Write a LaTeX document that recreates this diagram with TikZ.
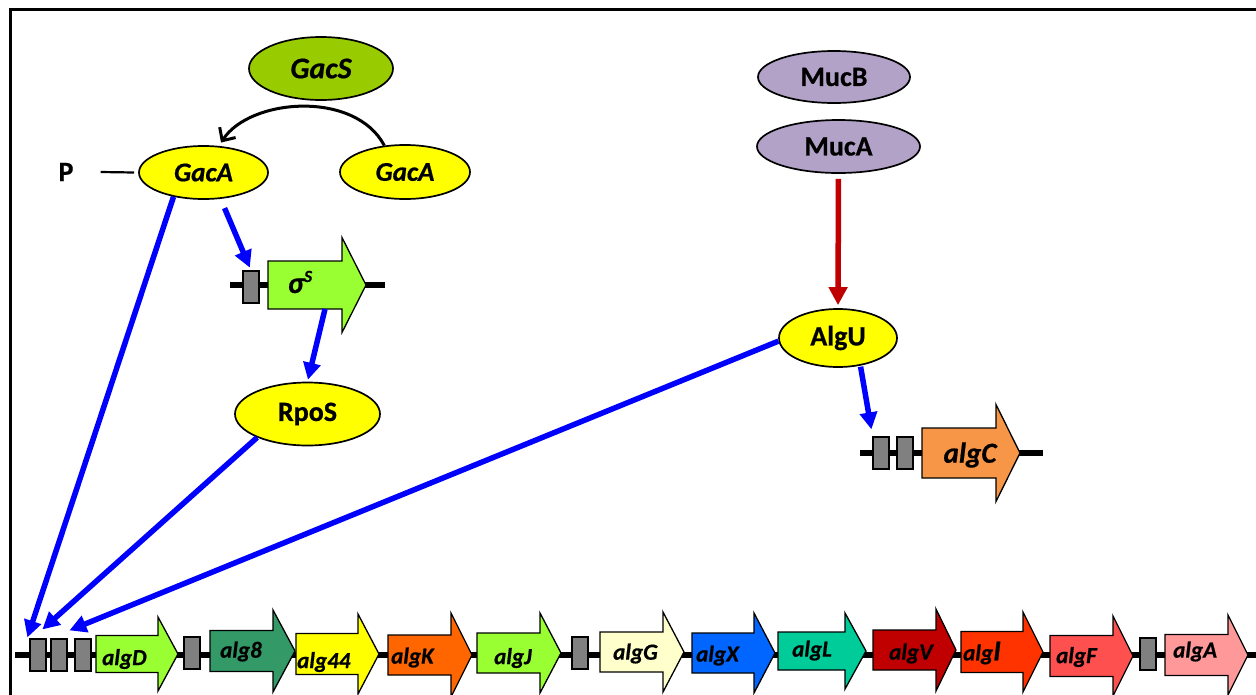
\documentclass[tikz,border=0pt]{standalone}
\usepackage{fontspec}
\setmainfont{Carlito}[BoldFeatures={FakeBold=0.6},BoldItalicFeatures={FakeBold=0.6}]
\usetikzlibrary{arrows.meta,calc,shapes.geometric}

\definecolor{gacsgreen}{HTML}{99CC00}
\definecolor{pyellow}{HTML}{FFFF00}
\definecolor{mucpurple}{HTML}{B3A2C7}
\definecolor{arrowblue}{HTML}{0000FF}
\definecolor{arrowred}{HTML}{C00000}
\definecolor{limegreen}{HTML}{99FF33}
\definecolor{algCorange}{HTML}{F79646}
\definecolor{algEightgreen}{HTML}{339966}
\definecolor{algKorange}{HTML}{FF6600}
\definecolor{algGcream}{HTML}{FFFFCC}
\definecolor{algXblue}{HTML}{0066FF}
\definecolor{algLteal}{HTML}{00CC99}
\definecolor{algVred}{HTML}{C00000}
\definecolor{algIred}{HTML}{FF3300}
\definecolor{algFred}{HTML}{FF5050}
\definecolor{algApink}{HTML}{FF9999}
\definecolor{promgray}{HTML}{808080}

\tikzset{
  prot/.style={ellipse, draw=black, line width=1.7pt, inner sep=0pt,
    font=\bfseries\fontsize{28}{30}\selectfont},
  protit/.style={prot, font=\bfseries\itshape\fontsize{27}{30}\selectfont},
  pbox/.style={rectangle, draw=black, line width=1.2pt, fill=promgray,
    minimum width=16pt, minimum height=32pt, inner sep=0pt},
  dna/.style={line width=6pt, black},
  genebody/.style={draw=black, line width=1.3pt},
  glabel/.style={anchor=west, inner sep=0pt, font=\bfseries\itshape\fontsize{23}{26}\selectfont},
  blueconn/.style={draw=arrowblue, line width=5.5pt, -{Triangle[width=17pt,length=17pt]}},
  redconn/.style={draw=arrowred, line width=5.5pt, -{Triangle[width=18pt,length=18pt]}},
  blackconn/.style={draw=black, line width=3pt, -{Straight Barb[length=10pt,width=19pt]}}
}

\newcommand{\genearrow}[7]{%
  \filldraw[genebody, fill=#7] (#1,#4-#5) -- (#2,#4-#5) -- (#2,#4-#6) -- (#3,#4)
    -- (#2,#4+#6) -- (#2,#4+#5) -- (#1,#4+#5) -- cycle;}

\begin{document}
\begin{tikzpicture}[x=1pt,y=-1pt]
\useasboundingbox (0,0) rectangle (1256,694);
\clip (0,0) rectangle (1256,694);
\fill[white] (0,0) rectangle (1256,694);
\draw[line width=3pt] (10,9.5) rectangle (1290,730);

% ---- proteins ----
\node[protit, fill=gacsgreen, font=\bfseries\itshape\fontsize{30}{32}\selectfont, minimum width=144pt, minimum height=63pt] (gacs) at (321,68.5) {GacS};
\node[protit, fill=pyellow, minimum width=129pt, minimum height=53pt] (gacaP) at (203.5,172.5) {GacA};
\node[protit, fill=pyellow, minimum width=130pt, minimum height=54pt] (gacaR) at (405,172) {GacA};
\node[prot, fill=mucpurple, minimum width=152pt, minimum height=52pt] (mucb) at (834,77) {MucB};
\node[prot, fill=mucpurple, minimum width=163pt, minimum height=53pt] (muca) at (838.5,146.5) {MucA};
\node[prot, fill=pyellow, minimum width=118pt, minimum height=58pt] (algu) at (838,338) {AlgU};
\node[prot, fill=pyellow, minimum width=145pt, minimum height=63pt] (rpos) at (307.5,414) {RpoS};

% phosphate
\node[inner sep=0pt, font=\bfseries\fontsize{28}{30}\selectfont] (phos) at (66,172) {P};
\draw[line width=2.2pt] ([xshift=27pt]phos.east) -- ([xshift=-4pt]gacaP.west);

% ---- sigma S gene ----
\draw[dna] (230,285) -- (385,285);
\node[pbox] (sbox) at (251,287) {};
\genearrow{268}{342}{366}{285}{24}{47.5}{limegreen}
\node[inner sep=0pt, font=\bfseries\itshape\fontsize{30}{32}\selectfont] (sigl) at (300,282) {σ\raisebox{11pt}{\fontsize{17}{18}\selectfont S}};
\coordinate (sigout) at (325,309);

% ---- algC gene ----
\draw[dna] (860,453) -- (1043,453);
\node[pbox] (cbox1) at (881,453) {};
\node[pbox] (cbox2) at (905,453) {};
\genearrow{922}{996}{1020}{453}{25}{48.5}{algCorange}
\node[inner sep=0pt, font=\bfseries\itshape\fontsize{29}{30}\selectfont] (algcl) at (970,455) {algC};

% ---- alg operon ----
\draw[dna] (15,655) -- (1256,655);
\node[pbox] (p1) at (38,655) {};
\node[pbox] (p2) at (59,655) {};
\node[pbox] (p3) at (83,655) {};
\node[pbox] (p4) at (192,653) {};
\node[pbox] (p5) at (580,653) {};
\node[pbox] (p6) at (1148,654) {};

\genearrow{96}{158}{178}{654}{18.5}{37}{limegreen}
\genearrow{210}{273}{295}{651}{20.5}{41}{algEightgreen}
\genearrow{296}{358}{379}{654}{20.5}{40}{pyellow}
\genearrow{388}{451}{472}{655}{20}{42}{algKorange}
\genearrow{477}{540}{561}{653}{20}{40}{limegreen}
\genearrow{600}{663}{684}{652}{20}{40}{algGcream}
\genearrow{692}{754}{775}{653}{20}{40}{algXblue}
\genearrow{778}{845}{866}{651}{19}{38}{algLteal}
\genearrow{873}{936}{956}{650}{20}{41}{algVred}
\genearrow{961}{1023}{1043}{652}{20.5}{40}{algIred}
\genearrow{1050}{1113}{1133}{656}{20.5}{40}{algFred}
\genearrow{1165}{1228}{1248}{655}{20.5}{40}{algApink}

\node[glabel] (lD) at (102,659) {algD};
\node[glabel] (l8) at (220,651.5) {alg8};
\node[glabel] (l44) at (297,662) {alg44};
\node[glabel] (lK) at (391,657.5) {algK};
\node[glabel] (lJ) at (494,658) {algJ};
\node[glabel] (lG) at (613,653.5) {algG};
\node[glabel] (lX) at (696,655.5) {algX};
\node[glabel] (lL) at (792,650.5) {algL};
\node[glabel] (lV) at (889,653.5) {algV};
\node[glabel] (lI) at (963,653) {alg{\fontsize{29}{30}\selectfont I}};
\node[glabel] (lF) at (1056,657) {algF};
\node[glabel] (lA) at (1173,651.5) {algA};

% ---- connectors ----
\draw[blackconn, shorten >=4pt] (gacaR.128) .. controls (355,90) and (250,98) .. (gacaP.60);
\draw[redconn, shorten <=5pt, shorten >=3pt] (muca.south) -- (algu.north);
\draw[blueconn] (gacaP.219) -- ($(p1.north west)+(-2,-1)$);
\draw[blueconn, shorten <=10pt, shorten >=3pt] (gacaP.-57) -- (sbox.north);
\draw[blueconn, shorten >=2pt] (sigout) -- (rpos.north);
\draw[blueconn] (rpos.205) -- ($(p2.north west)+(-8,-9)$);
\draw[blueconn] (algu.183) -- ($(p3.north west)+(-5,-8)$);
\draw[blueconn, shorten <=1pt] (algu.-51) -- ($(cbox1.north west)+(-1,-7)$);
\end{tikzpicture}
\end{document}
